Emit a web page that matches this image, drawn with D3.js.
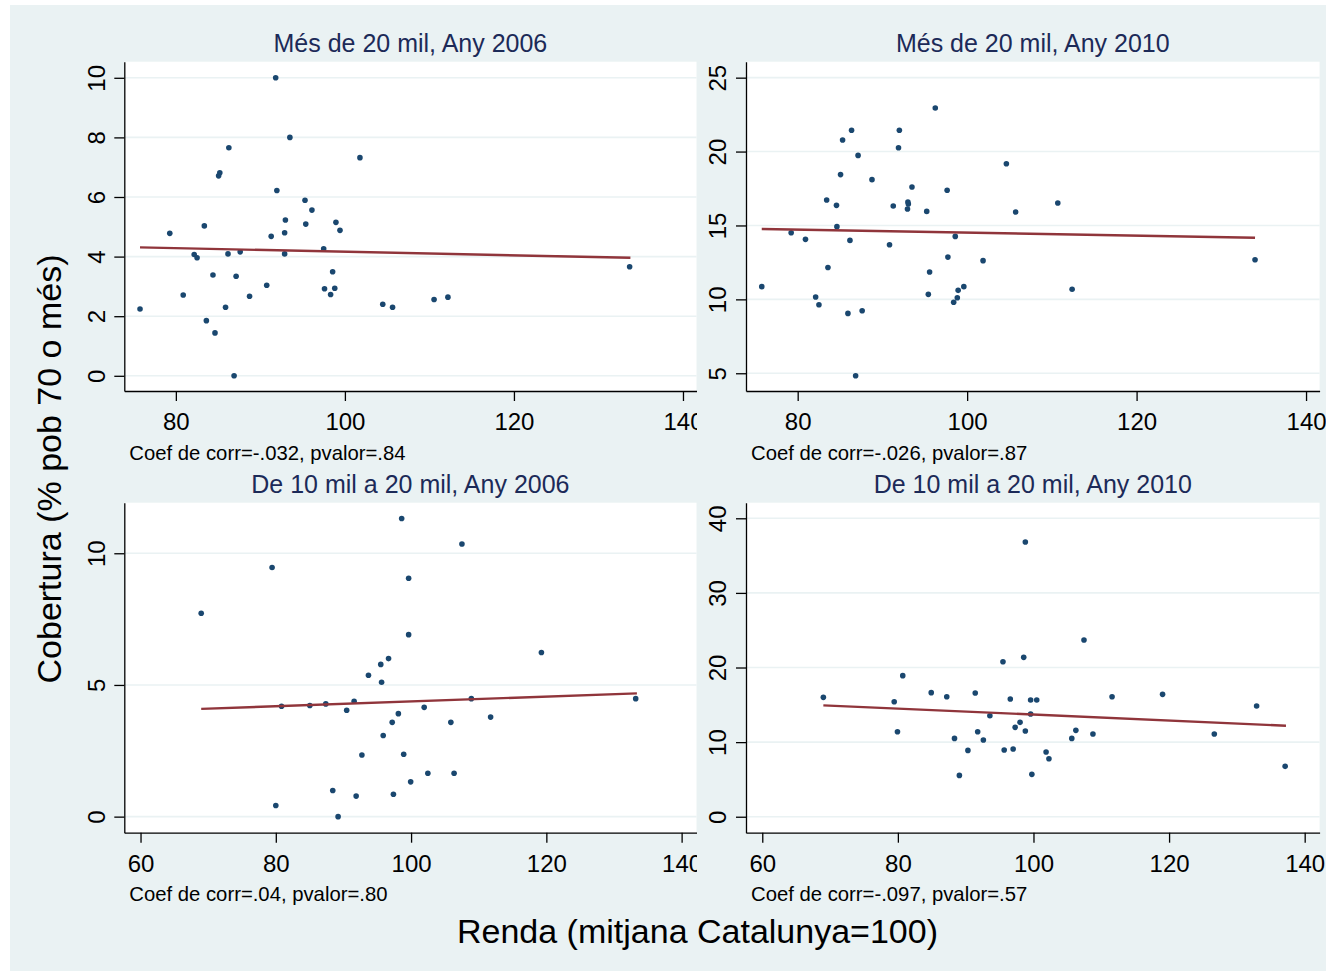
<!DOCTYPE html>
<html>
<head>
<meta charset="utf-8">
<script src="https://cdn.jsdelivr.net/npm/d3@7"></script>
<style>
  html, body { margin: 0; padding: 0; background: #ffffff; }
  svg { display: block; font-family: "Liberation Sans", Arial, sans-serif; }
</style>
</head>
<body>
<svg id="chart" width="1326" height="971"></svg>
<script>
// ---------------- DATA ----------------
const panelTitles = [
  "Més de 20 mil, Any 2006",
  "Més de 20 mil, Any 2010",
  "De 10 mil a 20 mil, Any 2006",
  "De 10 mil a 20 mil, Any 2010"
];
const panelNotes = [
  "Coef de corr=-.032, pvalor=.84",
  "Coef de corr=-.026, pvalor=.87",
  "Coef de corr=.04, pvalor=.80",
  "Coef de corr=-.097, pvalor=.57"
];
const yAxisTitle = "Cobertura (% pob 70 o més)";
const xAxisTitle = "Renda (mitjana Catalunya=100)";

const xTicksTop = [80, 100, 120, 140];
const xTicksBottom = [60, 80, 100, 120, 140];
const yTicks1 = [0, 2, 4, 6, 8, 10];
const yTicks2 = [5, 10, 15, 20, 25];
const yTicks3 = [0, 5, 10];
const yTicks4 = [0, 10, 20, 30, 40];

// Panel 1: Més de 20 mil, 2006
const renda1 = [75.76,79.28,80.87,82.17,82.51,83.37,83.61,84.39,84.63,85.06,85.2,85.88,86.17,86.27,86.89,87.13,87.61,88.72,90.75,91.28,91.81,91.95,92.87,92.87,92.96,93.49,95.28,95.37,96.10,97.49,97.59,98.31,98.55,98.80,98.94,99.42,101.78,104.48,105.64,110.55,112.19,133.69];
const cob1   = [2.24,4.78,2.71,4.07,3.96,5.03,1.85,3.38,1.44,6.71,6.81,2.30,4.09,7.65,0.0,3.34,4.16,2.67,3.04,4.68,10.0,6.22,4.09,4.80,5.23,8.0,5.89,5.09,5.56,4.26,2.92,2.73,3.49,2.94,5.15,4.88,7.32,2.40,2.30,2.56,2.64,3.66];
const fitX1 = [75.76, 133.78];
const fitY1 = [4.31, 3.96];

// Panel 2: Més de 20 mil, 2010
const renda2 = [75.76,79.23,80.92,82.12,82.51,83.42,83.57,84.58,84.63,85.06,85.30,85.93,86.17,86.36,86.84,87.13,87.61,88.77,90.84,91.28,91.90,92.0,92.96,93.01,93.06,93.49,95.23,95.42,95.57,96.24,97.64,97.73,98.41,98.60,98.84,98.94,99.61,101.88,104.63,105.73,110.70,112.39,133.98];
const cob2   = [10.86,14.51,14.06,10.16,9.64,16.72,12.16,16.36,14.92,18.44,20.78,9.05,13.99,21.44,4.83,19.74,9.23,18.10,13.70,16.32,20.26,21.44,16.11,16.59,16.45,17.60,15.95,10.34,11.85,22.95,17.38,12.86,9.80,14.26,10.11,10.61,10.86,12.62,19.18,15.91,16.52,10.68,12.68];
const fitX2 = [75.76, 133.98];
const fitY2 = [14.76, 14.17];

// Panel 3: De 10 mil a 20 mil, 2006
const renda3 = [68.97,79.45,80.0,80.85,85.03,87.39,88.42,89.21,90.48,91.58,91.88,92.73,93.70,95.52,95.64,95.88,96.67,97.21,97.39,98.12,98.61,98.91,99.64,99.64,99.94,101.94,102.48,105.88,106.36,107.52,108.91,111.76,119.27,133.21];
const cob3   = [7.72,9.46,0.42,4.19,4.22,4.28,0.99,0.0,4.04,4.38,0.78,2.34,5.37,5.78,5.10,3.08,6.0,3.58,0.85,3.91,11.32,2.37,9.05,6.91,1.32,4.15,1.65,3.58,1.65,10.35,4.48,3.78,6.23,4.48];
const fitX3 = [68.97, 133.39];
const fitY3 = [4.09, 4.68];

// Panel 4: De 10 mil a 20 mil, 2010
const renda4 = [69.01,79.46,79.94,80.72,84.92,87.21,88.35,89.07,90.33,91.41,91.77,92.61,93.57,95.50,95.68,96.58,97.0,97.30,98.02,98.56,98.80,98.80,99.58,99.58,99.76,100.48,101.86,102.28,105.65,106.25,107.45,108.77,111.59,119.04,126.67,132.91,137.12];
const cob4   = [16.0,15.42,11.40,18.91,16.63,16.09,10.50,5.54,8.89,16.58,11.40,10.28,13.54,20.78,8.94,15.78,9.07,11.98,12.65,21.36,36.83,11.49,15.64,13.77,5.68,15.64,8.67,7.78,10.50,11.58,23.69,11.08,16.09,16.40,11.08,14.84,6.75];
const fitX4 = [69.01, 137.24];
const fitY4 = [14.93, 12.20];

// ---------------- LAYOUT / STYLE ----------------
const C = {
  bg: "#eaf2f3",
  plot: "#ffffff",
  grid: "#eaf2f3",
  dot: "#1a476f",
  fit: "#90353b",
  title: "#1c2a58",
  text: "#000000"
};

const panels = [
  { title: panelTitles[0], note: panelNotes[0], xs: renda1, ys: cob1, fx: fitX1, fy: fitY1,
    xDom: [73.9, 141.6], yDom: [-0.51, 10.54], xTicks: xTicksTop, yTicks: yTicks1,
    left: 124.3, right: 696.5, top: 61.7, bottom: 391, clip: true },
  { title: panelTitles[1], note: panelNotes[1], xs: renda2, ys: cob2, fx: fitX2, fy: fitY2,
    xDom: [73.9, 141.6], yDom: [3.8, 26.08], xTicks: xTicksTop, yTicks: yTicks2,
    left: 746, right: 1319.6, top: 61.7, bottom: 391, clip: false },
  { title: panelTitles[2], note: panelNotes[2], xs: renda3, ys: cob3, fx: fitX3, fy: fitY3,
    xDom: [57.6, 142.2], yDom: [-0.61, 11.92], xTicks: xTicksBottom, yTicks: yTicks3,
    left: 124.3, right: 696.5, top: 502.7, bottom: 832.7, clip: true },
  { title: panelTitles[3], note: panelNotes[3], xs: renda4, ys: cob4, fx: fitX4, fy: fitY4,
    xDom: [57.6, 142.2], yDom: [-2.14, 42.09], xTicks: xTicksBottom, yTicks: yTicks4,
    left: 746, right: 1319.6, top: 502.7, bottom: 832.7, clip: false }
];

const svg = d3.select("#chart");
svg.append("rect").attr("x", 0).attr("y", 0).attr("width", 1326).attr("height", 971).attr("fill", "#ffffff");
svg.append("rect").attr("x", 10).attr("y", 5).attr("width", 1316).attr("height", 966).attr("fill", C.bg);

const defs = svg.append("defs");
defs.append("clipPath").attr("id", "leftClip")
  .append("rect").attr("x", 0).attr("y", 0).attr("width", 697).attr("height", 971);

panels.forEach((p, i) => {
  const g = svg.append("g");
  if (p.clip) g.attr("clip-path", "url(#leftClip)");

  const x = d3.scaleLinear().domain(p.xDom).range([p.left, p.right]);
  const y = d3.scaleLinear().domain(p.yDom).range([p.bottom, p.top]);

  // plot region
  g.append("rect")
    .attr("x", p.left).attr("y", p.top)
    .attr("width", p.right - p.left).attr("height", p.bottom - p.top)
    .attr("fill", C.plot);

  // gridlines
  g.append("g").selectAll("line").data(p.yTicks).join("line")
    .attr("x1", p.left).attr("x2", p.right)
    .attr("y1", d => y(d)).attr("y2", d => y(d))
    .attr("stroke", C.grid).attr("stroke-width", 1.6);

  // points
  g.append("g").selectAll("circle").data(p.xs.map((v, k) => [v, p.ys[k]])).join("circle")
    .attr("cx", d => x(d[0])).attr("cy", d => y(d[1])).attr("r", 2.8)
    .attr("fill", C.dot);

  // fitted line
  g.append("path")
    .datum(p.fx.map((v, k) => [v, p.fy[k]]))
    .attr("d", d3.line().x(d => x(d[0])).y(d => y(d[1])))
    .attr("fill", "none").attr("stroke", C.fit).attr("stroke-width", 2.4);

  // x axis
  const xa = g.append("g").attr("transform", `translate(0,${p.bottom})`)
    .call(d3.axisBottom(x).tickValues(p.xTicks).tickSize(10).tickSizeOuter(0).tickFormat(d3.format("d")));
  xa.select(".domain").attr("stroke", "#000").attr("stroke-width", 1.3);
  xa.selectAll(".tick line").attr("stroke", "#000").attr("stroke-width", 1.3);
  xa.selectAll(".tick text")
    .attr("y", 39).attr("dy", 0)
    .attr("font-size", 24).attr("fill", C.text)
    .attr("font-family", "Liberation Sans, Arial, sans-serif");

  // y axis
  const ya = g.append("g").attr("transform", `translate(${p.left},0)`)
    .call(d3.axisLeft(y).tickValues(p.yTicks).tickSize(10).tickSizeOuter(0).tickFormat(d3.format("d")));
  ya.select(".domain").attr("stroke", "#000").attr("stroke-width", 1.3);
  ya.selectAll(".tick line").attr("stroke", "#000").attr("stroke-width", 1.3);
  ya.selectAll(".tick text")
    .attr("transform", "rotate(-90)")
    .attr("x", 0).attr("y", -19.6).attr("dy", 0)
    .attr("text-anchor", "middle")
    .attr("font-size", 24).attr("fill", C.text)
    .attr("font-family", "Liberation Sans, Arial, sans-serif");

  // panel title
  g.append("text")
    .attr("x", (p.left + p.right) / 2).attr("y", p.top - 10)
    .attr("text-anchor", "middle")
    .attr("font-size", 25).attr("fill", C.title)
    .text(p.title);

  // note
  g.append("text")
    .attr("x", p.left + 5).attr("y", p.bottom + 68.5)
    .attr("font-size", 20.3).attr("fill", C.text)
    .text(p.note);
});

// global axis titles
svg.append("text")
  .attr("transform", "translate(61,469) rotate(-90)")
  .attr("text-anchor", "middle")
  .attr("font-size", 34).attr("fill", C.text)
  .text(yAxisTitle);

svg.append("text")
  .attr("x", 697.5).attr("y", 943)
  .attr("text-anchor", "middle")
  .attr("font-size", 34).attr("fill", C.text)
  .text(xAxisTitle);
</script>
</body>
</html>
